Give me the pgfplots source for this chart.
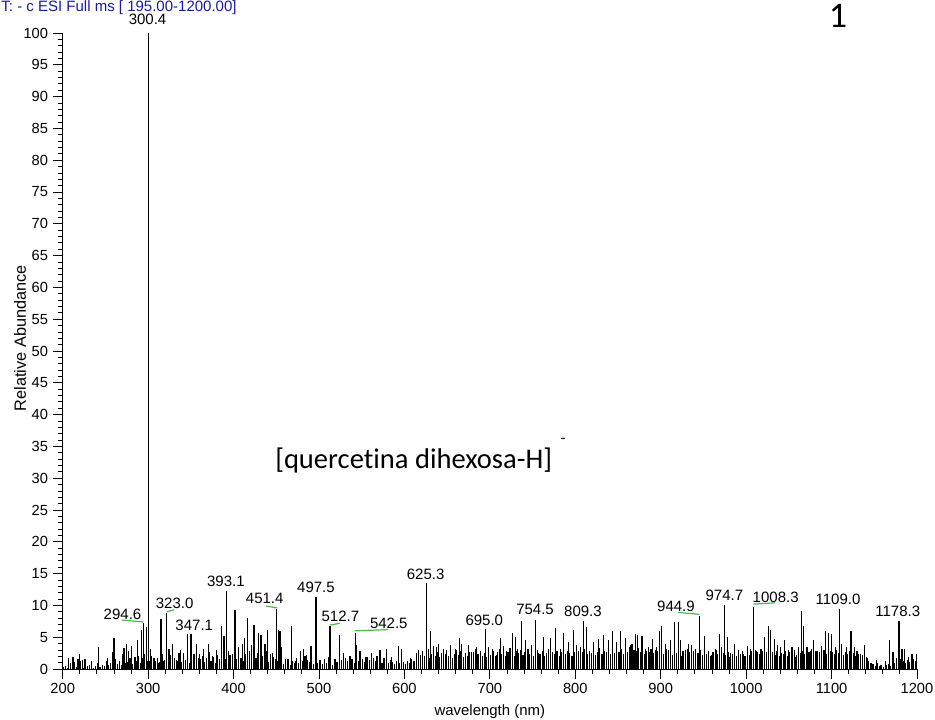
\documentclass[border=0pt]{standalone}
\usepackage{pgfplots}
\pgfplotsset{compat=1.18}
\usepackage{fontspec}
\setmainfont{Liberation Sans}
\newfontfamily\calibri{Carlito}[Ligatures=NoCommon]
\definecolor{titleblue}{RGB}{25,25,165}
\definecolor{annogreen}{RGB}{70,190,70}
\begin{document}
\begin{tikzpicture}
\useasboundingbox (0,0) rectangle (701.25pt,-540pt);
\begin{axis}[
  at={(47.025pt,-501.75pt)}, anchor=south west,
  scale only axis, width=640.7pt, height=477pt,
  xmin=200, xmax=1200, ymin=0, ymax=100,
  axis lines=left, axis line style={-, line width=0.6pt},
  tick align=outside,
  xtick distance=100, ytick distance=5,
  minor x tick num=4, minor y tick num=4,
  major tick length=7.5pt, minor tick length=3.6pt,
  tick style={black, line width=0.6pt},
  ticklabel style={font=\fontsize{11}{13}\selectfont},
  /pgf/number format/assume math mode=true,
  /pgf/number format/1000 sep={},
  clip=false,
  xlabel={wavelength (nm)}, ylabel={Relative Abundance},
  xlabel style={font=\fontsize{11.2}{13}\selectfont, at={(axis description cs:0.5,-0.0676)}, anchor=center},
  ylabel style={font=\fontsize{12.2}{14}\selectfont, at={(axis description cs:-0.05,0.52)}, anchor=center},
]
% filler (dense low signals)
\addplot[ycomb, black, line width=0.9pt, mark=none] coordinates {
(201.2,0.3)(203.7,0.5)(206.2,0.2)(208.7,0.9)(211.2,0.4)(213.7,1.1)(216.2,0.3)(218.7,0.6)(221.2,1.2)(223.7,0.2)(226.2,0.7)(228.7,0.4)(231.2,0.3)(233.7,0.8)(236.2,0.2)(238.7,0.5)(241.2,1.0)(243.7,0.3)(246.2,0.6)(248.7,0.4)(251.2,1.3)(253.7,0.7)(256.2,0.9)(258.7,0.5)(261.2,1.6)(263.7,0.8)(266.2,1.2)(268.7,0.6)(271.2,1.4)(273.7,0.9)(276.2,1.1)(278.7,1.7)(281.2,0.8)(283.7,1.5)(286.2,1.2)(288.7,2.1)(291.2,1.0)(293.7,1.8)(296.2,2.4)(298.7,1.3)
(301.2,1.2)(303.7,2.0)(306.2,1.5)(308.7,0.9)(311.2,1.7)(313.7,1.1)(316.2,2.3)(318.7,1.4)(321.2,0.8)(323.7,1.6)(326.2,2.2)(328.7,1.0)(331.2,1.8)(333.7,1.3)(336.2,2.5)(338.7,1.1)(341.2,1.9)(343.7,1.4)(346.2,2.1)(348.7,0.9)(351.2,1.6)(353.7,2.4)(356.2,1.2)(358.7,1.8)(361.2,1.5)(363.7,2.0)(366.2,1.1)(368.7,1.7)(371.2,2.6)(373.7,1.3)(376.2,1.9)(378.7,1.0)(381.2,2.2)(383.7,1.6)(386.2,1.2)(388.7,2.0)(391.2,1.5)(393.7,2.8)(396.2,1.8)(398.7,2.3)
(401.2,2.1)(403.7,1.5)(406.2,2.7)(408.7,1.8)(411.2,1.2)(413.7,2.4)(416.2,1.9)(418.7,2.9)(421.2,1.4)(423.7,2.2)(426.2,1.7)(428.7,2.5)(431.2,1.3)(433.7,2.0)(436.2,1.6)(438.7,2.8)(441.2,1.1)(443.7,2.3)(446.2,1.9)(448.7,1.5)(451.2,1.2)(453.7,0.9)(456.2,1.4)(458.7,0.8)(461.2,1.1)(463.7,1.6)(466.2,0.7)(468.7,1.3)(471.2,1.0)(473.7,1.8)(476.2,0.9)(478.7,1.5)(481.2,1.2)(483.7,2.0)(486.2,1.4)(488.7,1.1)(491.2,1.7)(493.7,0.8)(496.2,1.3)(498.7,1.0)
(501.2,1.2)(503.7,0.8)(506.2,1.5)(508.7,1.0)(511.2,1.9)(513.7,1.3)(516.2,0.7)(518.7,1.6)(521.2,1.1)(523.7,2.0)(526.2,1.4)(528.7,0.9)(531.2,1.7)(533.7,1.2)(536.2,2.1)(538.7,1.5)(541.2,1.0)(543.7,1.8)(546.2,1.3)(548.7,2.2)(551.2,1.6)(553.7,1.1)(556.2,1.9)(558.7,1.4)(561.2,2.3)(563.7,1.7)(566.2,1.2)(568.7,2.0)(571.2,1.5)(573.7,1.0)(576.2,1.8)(578.7,1.3)(581.2,0.9)(583.7,1.4)(586.2,1.1)(588.7,0.8)(591.2,1.2)(593.7,0.9)(596.2,1.5)(598.7,1.1)
(601.2,0.8)(603.7,1.3)(606.2,0.9)(608.7,1.6)(611.2,1.2)(613.7,2.5)(616.2,3.0)(618.7,2.2)(621.2,2.8)(623.7,2.0)(626.2,2.6)(628.7,1.8)(631.2,2.4)(633.7,2.9)(636.2,2.1)(638.7,2.7)(641.2,1.9)(643.7,2.5)(646.2,3.1)(648.7,2.3)(651.2,2.0)(653.7,2.6)(656.2,1.8)(658.7,2.4)(661.2,3.0)(663.7,2.2)(666.2,2.8)(668.7,1.9)(671.2,2.5)(673.7,2.1)(676.2,2.7)(678.7,2.0)(681.2,2.6)(683.7,3.2)(686.2,2.3)(688.7,2.9)(691.2,2.1)(693.7,2.5)(696.2,1.9)(698.7,2.4)
(701.2,2.2)(703.7,2.8)(706.2,2.0)(708.7,2.6)(711.2,3.1)(713.7,2.3)(716.2,2.9)(718.7,2.1)(721.2,2.7)(723.7,3.3)(726.2,2.4)(728.7,2.0)(731.2,2.8)(733.7,2.5)(736.2,3.0)(738.7,2.2)(741.2,2.7)(743.7,3.2)(746.2,2.4)(748.7,2.9)(751.2,2.1)(753.7,2.6)(756.2,3.0)(758.7,2.3)(761.2,2.8)(763.7,2.0)(766.2,2.5)(768.7,3.1)(771.2,2.2)(773.7,2.7)(776.2,2.4)(778.7,2.9)(781.2,2.1)(783.7,2.6)(786.2,3.0)(788.7,2.3)(791.2,2.8)(793.7,2.5)(796.2,2.0)(798.7,2.7)
(801.2,2.4)(803.7,2.9)(806.2,2.1)(808.7,2.6)(811.2,3.2)(813.7,2.3)(816.2,2.8)(818.7,2.5)(821.2,3.0)(823.7,2.2)(826.2,2.7)(828.7,3.3)(831.2,2.4)(833.7,2.9)(836.2,2.6)(838.7,3.1)(841.2,2.3)(843.7,2.8)(846.2,2.5)(848.7,3.0)(851.2,2.7)(853.7,3.2)(856.2,2.4)(858.7,2.9)(861.2,2.6)(863.7,3.4)(866.2,2.5)(868.7,3.0)(871.2,2.8)(873.7,3.3)(876.2,2.6)(878.7,3.1)(881.2,2.4)(883.7,2.9)(886.2,2.7)(888.7,3.2)(891.2,2.5)(893.7,3.0)(896.2,2.8)(898.7,2.6)
(901.2,2.9)(903.7,2.4)(906.2,3.1)(908.7,2.6)(911.2,2.8)(913.7,2.2)(916.2,3.0)(918.7,2.5)(921.2,2.7)(923.7,2.1)(926.2,2.9)(928.7,2.4)(931.2,3.2)(933.7,2.6)(936.2,2.3)(938.7,2.8)(941.2,2.0)(943.7,2.5)(946.2,3.0)(948.7,2.2)(951.2,2.7)(953.7,2.4)(956.2,2.9)(958.7,2.1)(961.2,2.6)(963.7,3.1)(966.2,2.3)(968.7,2.8)(971.2,2.0)(973.7,2.5)(976.2,2.2)(978.7,2.7)(981.2,1.9)(983.7,2.4)(986.2,2.9)(988.7,2.1)(991.2,2.6)(993.7,2.3)(996.2,2.8)(998.7,2.0)
(1001.2,2.5)(1003.7,2.2)(1006.2,2.8)(1008.7,2.4)(1011.2,3.0)(1013.7,2.6)(1016.2,2.3)(1018.7,2.9)(1021.2,2.1)(1023.7,2.7)(1026.2,2.4)(1028.7,3.1)(1031.2,2.6)(1033.7,2.2)(1036.2,2.8)(1038.7,2.0)(1041.2,2.5)(1043.7,2.3)(1046.2,2.9)(1048.7,2.1)(1051.2,2.6)(1053.7,2.4)(1056.2,3.0)(1058.7,2.2)(1061.2,2.7)(1063.7,2.5)(1066.2,2.9)(1068.7,2.3)(1071.2,2.8)(1073.7,2.6)(1076.2,3.1)(1078.7,2.4)(1081.2,2.8)(1083.7,2.2)(1086.2,2.7)(1088.7,2.5)(1091.2,3.0)(1093.7,2.3)(1096.2,2.6)(1098.7,2.9)
(1101.2,2.7)(1103.7,2.4)(1106.2,3.0)(1108.7,2.5)(1111.2,2.8)(1113.7,2.2)(1116.2,2.6)(1118.7,2.3)(1121.2,2.9)(1123.7,2.1)(1126.2,2.5)(1128.7,2.0)(1131.2,2.4)(1133.7,1.8)(1136.2,2.2)(1138.7,1.5)(1141.2,1.9)(1143.7,1.2)(1146.2,1.0)(1148.7,0.8)(1151.2,0.5)(1153.7,0.9)(1156.2,0.4)(1158.7,0.7)(1161.2,0.3)(1163.7,0.6)(1166.2,0.8)(1168.7,0.5)(1171.2,1.1)(1173.7,0.9)(1176.2,1.3)(1178.7,1.0)(1181.2,1.6)(1183.7,1.2)(1186.2,0.9)(1188.7,1.4)(1191.2,1.1)(1193.7,0.8)(1196.2,1.5)(1198.7,1.2)
};
% main peaks
\addplot[ycomb, black, line width=0.9pt, mark=none] coordinates {
(206.6,1.8)(212.0,1.9)(218.0,1.5)(220.0,2.4)(223.0,1.4)(226.0,1.6)(231.0,0.6)(234.0,1.3)(241.5,3.5)(252.0,1.8)(258.0,2.7)(260.0,4.8)(262.0,1.6)(269.8,2.4)(271.8,3.3)(274.9,4.0)(277.0,2.8)(280.8,3.6)(284.7,1.9)(287.8,4.5)(292.4,6.1)(294.4,7.3)(298.2,6.6)(300.4,100)
(303.0,3.2)(306.9,1.7)(309.0,1.2)(312.0,0.9)(315.1,7.9)(318.5,1.3)(321.7,8.8)(324.5,3.2)(328.4,4.0)(333.4,1.4)(336.0,2.0)(338.1,3.0)(341.2,2.5)(345.9,5.5)(350.2,5.5)(356.9,4.0)(360.5,2.3)(364.7,3.1)(370.5,4.0)(375.0,2.1)(380.3,3.0)(386.1,6.8)(388.9,5.2)(392.0,12.3)(395.9,2.2)
(401.7,9.3)(405.6,3.5)(410.7,4.0)(412.7,4.8)(416.2,8.0)(421.3,3.8)(424.0,6.9)(429.1,5.6)(432.2,5.3)(436.9,4.0)(439.6,6.1)(445.8,2.5)(450.5,9.4)(452.5,6.2)(454.4,5.9)(456.4,3.5)(461.0,1.5)(468.1,6.7)(473.0,1.2)(477.9,2.9)(481.7,3.1)(485.6,2.2)(490.7,3.6)(496.6,11.4)
(501.3,1.4)(506.0,0.9)(513.0,6.7)(518.8,1.4)(523.9,5.3)(528.6,2.5)(536.4,1.7)(542.3,5.7)(544.2,3.8)(548.1,2.9)(554.0,1.9)(561.8,2.5)(567.6,2.0)(571.5,3.0)(579.3,3.2)(585.2,1.9)(593.0,3.6)(596.9,3.2)
(606.7,1.7)(614.5,1.4)(618.4,1.7)(625.4,13.5)(628.1,3.2)(630.9,6.0)(634.0,3.6)(637.1,3.4)(639.8,4.0)(643.7,1.9)(649.6,3.0)(654.3,3.8)(659.4,3.2)(664.4,4.8)(667.2,4.0)(671.1,2.2)(675.0,3.8)(678.9,2.7)(684.7,3.5)(688.6,2.5)(694.5,6.3)(698.4,3.4)
(703.5,3.1)(708.2,2.2)(712.1,4.8)(716.0,3.6)(719.9,2.9)(726.9,5.6)(729.6,5.1)(732.3,3.2)(737.4,7.5)(741.3,4.6)(745.2,3.2)(749.1,3.8)(753.4,7.7)(756.9,2.5)(762.8,5.1)(770.6,4.8)(777.2,6.4)(782.3,3.2)(786.2,5.6)(792.1,4.3)(797.9,6.1)
(801.8,3.8)(805.7,3.5)(809.6,7.5)(812.8,6.6)(821.3,4.3)(827.2,4.7)(833.0,5.3)(838.9,4.6)(844.0,5.9)(848.7,4.3)(852.6,5.9)(858.4,4.8)(864.3,3.8)(866.3,4.0)(870.2,5.5)(872.9,5.3)(878.0,5.2)(881.9,3.2)(885.8,3.5)(890.8,4.7)(894.7,3.4)(898.6,5.9)
(901.4,6.7)(905.3,4.0)(909.2,3.0)(911.9,4.6)(915.8,7.4)(920.9,7.4)(923.6,4.5)(928.7,3.0)(932.6,3.9)(936.5,3.8)(940.4,3.1)(945.5,8.3)(951.0,5.2)(956.0,1.9)(959.9,2.2)(965.0,3.0)(968.9,5.5)(971.6,3.5)(975.1,10.1)(978.3,5.0)(981.4,2.5)(986.1,3.9)(991.1,3.0)(997.0,2.4)
(1001.7,3.6)(1004.8,3.2)(1008.7,9.8)(1012.6,2.9)(1017.3,3.2)(1021.2,5.1)(1026.3,6.8)(1029.0,6.1)(1032.9,4.7)(1036.8,3.8)(1040.7,3.4)(1044.6,4.6)(1049.7,3.0)(1053.6,3.4)(1057.5,1.9)(1061.4,3.5)(1064.9,9.1)(1067.3,6.7)(1071.2,3.4)(1075.1,2.9)(1079.0,4.6)(1082.9,2.9)(1088.7,3.6)(1092.6,6.0)(1096.5,5.6)
(1100.4,5.5)(1104.3,3.4)(1109.4,9.4)(1112.1,4.0)(1117.2,3.4)(1122.7,6.0)(1126.6,3.5)(1129.7,2.9)(1133.6,2.4)(1138.3,3.8)(1142.2,1.8)(1147.3,0.8)(1152.3,1.4)(1157.0,0.6)(1162.9,1.2)(1168.0,4.6)(1171.9,2.7)(1175.8,1.8)(1178.9,7.5)(1182.4,3.1)(1185.1,3.2)(1190.2,1.9)(1194.1,2.4)(1199.2,2.4)
};
% green annotation lines
\begin{scope}[annogreen, line width=0.9pt]
\draw (axis cs:269,7.7) -- (axis cs:294.4,7.4);
\draw (axis cs:321.8,9.0) -- (axis cs:330.4,9.3);
\draw (axis cs:438,9.9) -- (axis cs:451.3,9.6);
\draw (axis cs:513,6.9) -- (axis cs:524.7,7.2);
\draw (axis cs:542.3,6.0) -- (axis cs:581.3,6.2);
\draw (axis cs:920,8.9) -- (axis cs:945.4,8.6);
\draw (axis cs:1008.5,10.2) -- (axis cs:1034,10.4);
\end{scope}
% peak labels
\begin{scope}[every node/.style={anchor=base, inner sep=0pt, font=\fontsize{11.25}{13}\selectfont}]
\node at (axis cs:299.3,101.3) {300.4};
\node at (axis cs:270,7.8) {294.6};
\node at (axis cs:331,9.5) {323.0};
\node at (axis cs:354,6.1) {347.1};
\node at (axis cs:391,13.0) {393.1};
\node at (axis cs:436.5,10.3) {451.4};
\node at (axis cs:496.5,12.1) {497.5};
\node at (axis cs:525,7.4) {512.7};
\node at (axis cs:581.7,6.4) {542.5};
\node at (axis cs:624.8,14.1) {625.3};
\node at (axis cs:693.5,6.9) {695.0};
\node at (axis cs:752.9,8.5) {754.5};
\node at (axis cs:809,8.3) {809.3};
\node at (axis cs:917.9,9.1) {944.9};
\node at (axis cs:974.6,10.8) {974.7};
\node at (axis cs:1034.6,10.5) {1008.3};
\node at (axis cs:1107.6,10.1) {1109.0};
\node at (axis cs:1177.5,8.3) {1178.3};
\end{scope}
% header and annotations
\node[anchor=base west, inner sep=0pt, text=titleblue, font=\fontsize{11.25}{13}\selectfont] at (axis cs:128,103.4) {T: - c ESI Full ms [ 195.00-1200.00]};
\node[anchor=base, inner sep=0pt, font=\calibri\fontsize{27}{30}\selectfont] at (axis cs:1107.5,100.8) {1};
\node[anchor=base west, inner sep=0pt, font=\calibri\fontsize{21.4}{25}\selectfont] at (axis cs:448.5,31.6) {[quercetina dihexosa-H]};
\node[anchor=center, inner sep=0pt, font=\calibri\fontsize{12}{14}\selectfont] at (axis cs:785.6,35.8) {-};
\end{axis}
\end{tikzpicture}
\end{document}
